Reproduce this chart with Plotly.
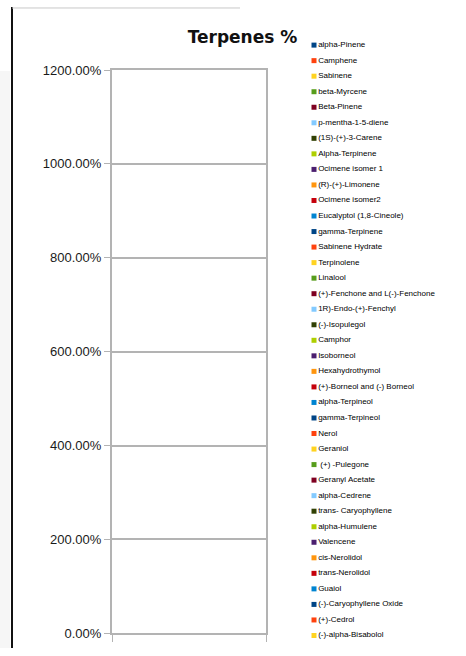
import plotly.graph_objects as go

W, H = 466, 656

title = "Terpenes %"
category = ["Terpenes"]
series_names = [
    "alpha-Pinene", "Camphene", "Sabinene", "beta-Myrcene", "Beta-Pinene",
    "p-mentha-1-5-diene", "(1S)-(+)-3-Carene", "Alpha-Terpinene", "Ocimene isomer 1",
    "(R)-(+)-Limonene", "Ocimene isomer2", "Eucalyptol (1,8-Cineole)", "gamma-Terpinene",
    "Sabinene Hydrate", "Terpinolene", "Linalool", "(+)-Fenchone and L(-)-Fenchone",
    "1R)-Endo-(+)-Fenchyl", "(-)-Isopulegol", "Camphor", "Isoborneol", "Hexahydrothymol",
    "(+)-Borneol and (-) Borneol", "alpha-Terpineol", "gamma-Terpineol", "Nerol",
    "Geraniol", " (+) -Pulegone", "Geranyl Acetate", "alpha-Cedrene",
    "trans- Caryophyllene", "alpha-Humulene", "Valencene", "cis-Nerolidol",
    "trans-Nerolidol", "Guaiol", "(-)-Caryophyllene Oxide", "(+)-Cedrol",
    "(-)-alpha-Bisabolol",
]
series_values = [
    0, 0, 0, 0, 0, 0, 0, 0, 0, 0, 0, 0, 0, 0, 0, 0, 0, 0, 0, 0,
    0, 0, 0, 0, 0, 0, 0, 0, 0, 0, 0, 0, 0, 0, 0, 0, 0, 0, 0,
]
palette = ["#004586", "#ff420e", "#ffd320", "#579d1c", "#7e0021", "#83caff",
           "#314004", "#aecf00", "#4b1f6f", "#ff950e", "#c5000b", "#0084d1"]
y_tickvals = [0, 200, 400, 600, 800, 1000, 1200]
y_ticktext = ["0.00%", "200.00%", "400.00%", "600.00%", "800.00%", "1000.00%", "1200.00%"]

colors = [palette[i % len(palette)] for i in range(len(series_names))]

fig = go.Figure()

# bars (all zero) on main axes
for name, val, col in zip(series_names, series_values, colors):
    fig.add_trace(go.Bar(x=[0.5], y=[val], name=name, marker_color=col,
                         marker_line_width=0, showlegend=False,
                         xaxis="x", yaxis="y"))

# custom legend drawn on secondary axes
idx = list(range(len(series_names)))
fig.add_trace(go.Scatter(
    x=[14] * len(series_names), y=idx, mode="markers+text",
    marker=dict(symbol="square", size=5, color=colors),
    text=series_names, textposition="middle right",
    textfont=dict(family="Liberation Sans", size=8, color="#000000"),
    showlegend=False, hoverinfo="skip", xaxis="x2", yaxis="y2", cliponaxis=False,
))

grid = "#b3b3b3"
fig.update_layout(
    width=W, height=H,
    margin=dict(l=0, r=0, t=0, b=0),
    paper_bgcolor="white", plot_bgcolor="white",
    barmode="group",
    showlegend=False,
    title=dict(text="<b>" + title + "</b>", x=242.5 / W, y=1 - 31 / H,
               xanchor="center", yanchor="middle", xref="paper", yref="paper",
               font=dict(family="DejaVu Sans", size=17, color="#111111")),
    xaxis=dict(domain=[112 / W, 266 / W], range=[0, 1], tickvals=[0, 1],
               showticklabels=False, ticks="outside", ticklen=7, tickcolor=grid,
               showline=True, linecolor=grid, linewidth=2, mirror=True,
               showgrid=False, zeroline=False, fixedrange=True),
    yaxis=dict(domain=[15 / H, (H - 64.5) / H], range=[0, 1200],
               tickvals=y_tickvals, ticktext=y_ticktext,
               ticks="outside", ticklen=6, tickcolor=grid,
               showline=True, linecolor=grid, linewidth=2, mirror=True,
               showgrid=True, gridcolor=grid, gridwidth=1.5, zeroline=False,
               tickfont=dict(family="Liberation Sans", size=13, color="#1a1a1a")),
    xaxis2=dict(domain=[300 / W, 1], range=[0, 166], visible=False, fixedrange=True),
    yaxis2=dict(domain=[0, 1], range=[(H - 39) / 15.9, -39 / 15.9], visible=False,
                fixedrange=True),
    shapes=[
        dict(type="rect", xref="paper", yref="paper", x0=0, x1=10 / W, y0=0, y1=0.9,
             line_width=0, fillcolor="#f6f6f6", layer="below"),
        dict(type="line", xref="paper", yref="paper", x0=12 / W, x1=12 / W, y0=0, y1=1,
             line=dict(color="#111111", width=2)),
        dict(type="line", xref="paper", yref="paper", x0=12 / W, x1=240 / W,
             y0=1 - 1 / H, y1=1 - 1 / H, line=dict(color="#c8c8c8", width=1)),
    ],
)

fig.write_html(
    "out.html",
    config={"displayModeBar": False, "responsive": False},
    post_script="document.body.style.margin='0';document.body.style.overflow='hidden';",
)
